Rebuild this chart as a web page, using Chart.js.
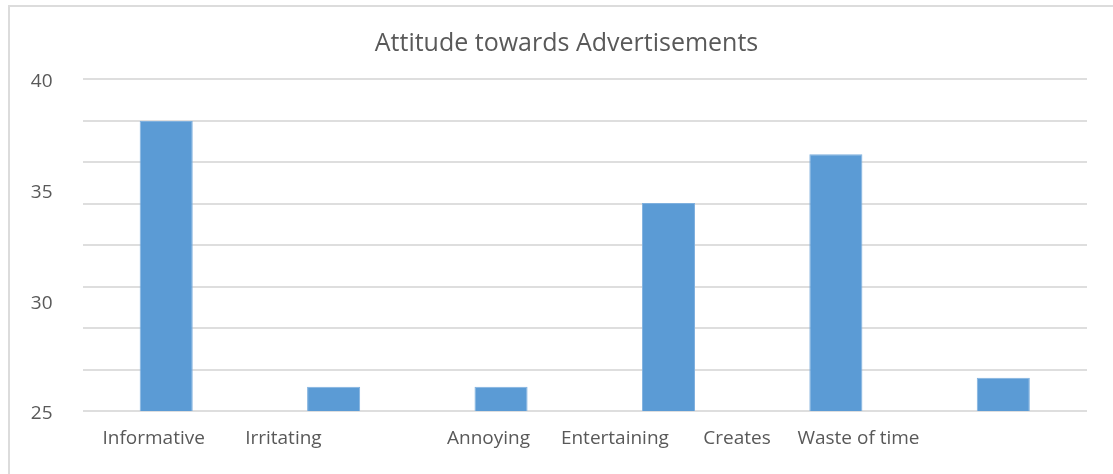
<!DOCTYPE html>
<html>
<head>
<meta charset="utf-8">
<title>Attitude towards Advertisements</title>
<script src="https://cdn.jsdelivr.net/npm/chart.js@4/dist/chart.umd.min.js"></script>
<style>
  html, body { margin: 0; padding: 0; background: #ffffff; }
  #wrap { position: relative; width: 1113px; height: 474px; overflow: hidden; }
  #frame {
    position: absolute; left: 8px; top: 5px; right: -4px; bottom: -4px;
    border-left: 2px solid #dcdcdc; border-top: 2px solid #dcdcdc;
    pointer-events: none;
  }
  canvas { position: absolute; left: 0; top: 0; }
</style>
</head>
<body>
<div id="wrap">
  <div id="frame"></div>
  <canvas id="chart" width="1113" height="474"></canvas>
</div>
<script>
// Survey responses: attitude towards advertisements
const categories = ['Informative', 'Irritating', 'Annoying', 'Entertaining', 'Creates', 'Waste of time'];
const responses = [38.1, 26.1, 26.1, 34.4, 36.6, 26.5];

// Value axis range and tick labels
const axisMin = 25;
const axisMax = 40;
const tickLabels = [40, 35, 30, 25];
const gridDivisions = 8;

// Where the category captions sit along the category axis (in category units)
const captionSlots = [-0.075, 0.70, 1.925, 2.68, 3.41, 4.135];

const textColor = '#595959';
const fontFamily = '"Open Sans", "Liberation Sans", sans-serif';

new Chart(document.getElementById('chart'), {
  type: 'bar',
  data: {
    labels: categories,
    datasets: [{
      data: responses,
      backgroundColor: '#5b9bd5',
      borderColor: '#7fb0de',
      borderWidth: 1,
      borderSkipped: 'start',
      barPercentage: 0.317,
      categoryPercentage: 1.0,
      xAxisID: 'x',
      yAxisID: 'y'
    }]
  },
  options: {
    responsive: false,
    animation: false,
    events: [],
    layout: { padding: { left: 20, right: 0, top: 0, bottom: 0 } },
    plugins: {
      legend: { display: false },
      tooltip: { enabled: false },
      title: {
        display: true,
        text: 'Attitude towards Advertisements',
        color: textColor,
        font: { family: fontFamily, size: 25, weight: 'normal' },
        padding: { top: 29, bottom: 20 }
      }
    },
    scales: {
      x: {
        type: 'category',
        position: 'bottom',
        grid: { display: false },
        border: { display: false },
        ticks: { display: false },
        afterFit: (s) => { s.height = 0; }
      },
      captions: {
        type: 'linear',
        position: 'bottom',
        offset: false,
        min: -0.5,
        max: categories.length - 0.5,
        grid: { display: false, drawTicks: false },
        border: { display: false },
        afterBuildTicks: (s) => { s.ticks = captionSlots.map((v) => ({ value: v })); },
        ticks: {
          autoSkip: false,
          maxRotation: 0,
          minRotation: 0,
          padding: 16,
          color: textColor,
          font: { family: fontFamily, size: 19 },
          callback: (v, i) => categories[i]
        },
        afterFit: (s) => { s.height = 63; }
      },
      y: {
        type: 'linear',
        position: 'left',
        min: axisMin,
        max: axisMax,
        grid: { color: '#dedede', lineWidth: 2, drawTicks: false },
        border: { display: false },
        ticks: { display: false, stepSize: (axisMax - axisMin) / gridDivisions },
        afterFit: (s) => { s.width = 0; }
      },
      yLabels: {
        type: 'linear',
        position: 'left',
        min: axisMin,
        max: axisMax,
        grid: { display: false, drawTicks: false },
        border: { display: false },
        afterBuildTicks: (s) => { s.ticks = tickLabels.map((v) => ({ value: v })); },
        ticks: {
          padding: 30,
          labelOffset: 3,
          color: textColor,
          font: { family: fontFamily, size: 19 }
        },
        afterFit: (s) => { s.width = 62.5; }
      },
      rightGap: {
        type: 'linear',
        position: 'right',
        grid: { display: false, drawTicks: false },
        border: { display: false },
        ticks: { display: false },
        afterFit: (s) => { s.width = 26; }
      }
    }
  }
});
</script>
</body>
</html>
